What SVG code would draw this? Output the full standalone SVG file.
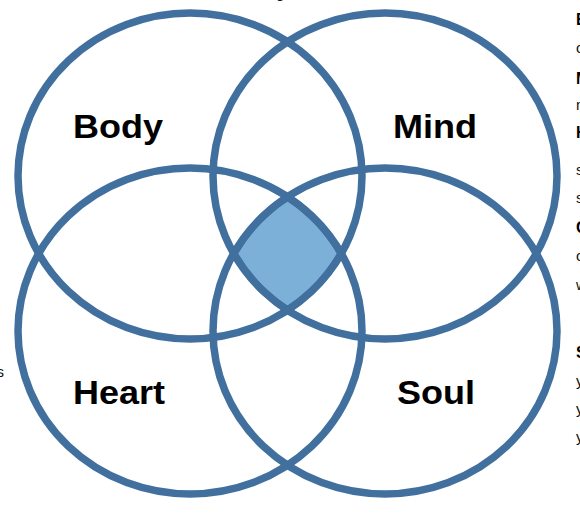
<svg xmlns="http://www.w3.org/2000/svg" width="580" height="523" viewBox="0 0 580 523">
<style>
.ring{fill:none;stroke:#41709f;stroke-width:7.5}
.lbl{font-family:"Liberation Sans",Arial,sans-serif;font-weight:bold;font-size:34px;fill:#000}
.side{font-family:"Liberation Sans",Arial,sans-serif;font-size:15px;fill:#111}
.sideb{font-family:"Liberation Sans",Arial,sans-serif;font-size:16px;font-weight:bold;fill:#000}
</style>
<rect width="580" height="523" fill="#fff"/>
<g id="center">
<path d="M287.5,197 A172,163 0 0 1 341,253.5 A172,163 0 0 1 287.5,310 A172,163 0 0 1 234,253.5 A172,163 0 0 1 287.5,197 Z" fill="#7cb0d8" stroke="#3a6a99" stroke-width="7"/>
</g>
<g id="body">
<ellipse class="ring" cx="190" cy="176" rx="172" ry="163"/>
<text class="lbl" x="73" y="138" textLength="90" lengthAdjust="spacingAndGlyphs">Body</text>
</g>
<g id="mind">
<ellipse class="ring" cx="385" cy="176" rx="172" ry="163"/>
<text class="lbl" x="393" y="138" textLength="84" lengthAdjust="spacingAndGlyphs">Mind</text>
</g>
<g id="heart">
<ellipse class="ring" cx="190" cy="331" rx="172" ry="163"/>
<text class="lbl" x="73" y="404" textLength="92" lengthAdjust="spacingAndGlyphs">Heart</text>
</g>
<g id="soul">
<ellipse class="ring" cx="385" cy="331" rx="172" ry="163"/>
<text class="lbl" x="397" y="404" textLength="78" lengthAdjust="spacingAndGlyphs">Soul</text>
</g>
<g id="fragments">
<text class="sideb" x="576" y="25">B</text>
<text class="side" x="576" y="53">c</text>
<text class="sideb" x="576" y="84">M</text>
<text class="side" x="576" y="110">n</text>
<text class="sideb" x="576" y="138">H</text>
<text class="side" x="576" y="175">s</text>
<text class="side" x="576" y="203">s</text>
<text class="sideb" x="576" y="233">C</text>
<text class="side" x="576" y="261">c</text>
<text class="side" x="576" y="290">w</text>
<text class="sideb" x="576" y="358">S</text>
<text class="side" x="576" y="386">y</text>
<text class="side" x="576" y="414">y</text>
<text class="side" x="576" y="442">y</text>
<text class="side" x="4" y="377" text-anchor="end">s</text>
<text class="side" x="276" y="-2">g</text>
</g>
</svg>
